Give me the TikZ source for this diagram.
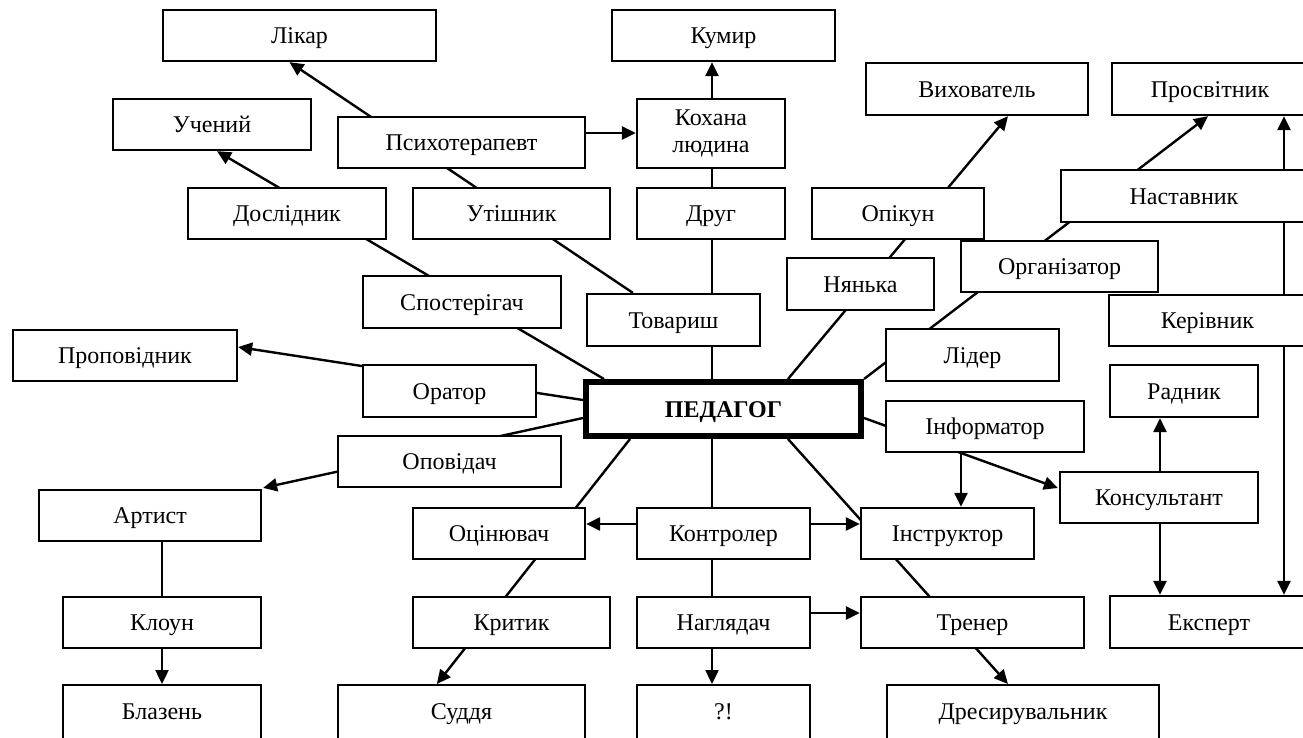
\documentclass[tikz,border=0pt]{standalone}
\usepackage{fontspec}
\setmainfont{Liberation Serif}
\usetikzlibrary{arrows.meta,calc}
\pgfdeclarelayer{background}
\pgfsetlayers{background,main}

% one role box: name, centre x, centre y, width, height, text
\newcommand\rolebox[6]{\node[box, minimum width=#4pt, minimum height=#5pt] (#1) at (#2,#3) {#6};}

\begin{document}
\begin{tikzpicture}[x=1pt,y=-1pt,
  box/.style={draw, line width=2.3pt, fill=white, inner sep=0pt,
    font=\fontsize{24}{27}\selectfont, align=center,
    text height=22pt, text depth=6pt},
  centrebox/.style={box, line width=6pt, font=\fontsize{24}{27}\selectfont\bfseries},
  link/.style={line width=2.4pt},
  arr/.style={line width=2.4pt, -{Triangle[length=14pt,width=13pt]}},
]
\useasboundingbox (0,0) rectangle (1303,737);
\clip (0,0) rectangle (1303,737);

% centre
\node[centrebox, minimum width=275pt, minimum height=54pt] (ped) at (723.5,409) {ПЕДАГОГ};

% upper part
\rolebox{likar}{299.5}{35.5}{273}{51}{Лікар}
\rolebox{kumyr}{723.5}{35.5}{223}{51}{Кумир}
\rolebox{uchenyi}{212}{124.5}{198}{51}{Учений}
\rolebox{psykh}{461.5}{142.5}{247}{51}{Психотерапевт}
\node[box, text height={}, text depth={}, minimum width=148pt, minimum height=69pt] (kokhana) at (711,133.5) {Кохана\\людина};
\rolebox{vykh}{977}{89}{222}{52}{Вихователь}
\rolebox{prosv}{1210}{89}{196}{52}{Просвітник}
\rolebox{doslid}{287}{213.5}{198}{51}{Дослідник}
\rolebox{utish}{511.5}{213.5}{197}{51}{Утішник}
\rolebox{druh}{711}{213.5}{148}{51}{Друг}
\rolebox{opikun}{898}{213.5}{172}{51}{Опікун}
\rolebox{nastav}{1184}{196}{246}{52}{Наставник}
\rolebox{orhaniz}{1059.5}{266.5}{197}{51}{Організатор}
\rolebox{nyanka}{860.5}{284}{147}{52}{Нянька}
\rolebox{sposter}{462}{302}{198}{52}{Спостерігач}
\rolebox{tovarysh}{673.5}{320}{173}{52}{Товариш}
\rolebox{kerivn}{1207.5}{320.5}{197}{51}{Керівник}

% middle band
\rolebox{propov}{125}{355.5}{224}{51}{Проповідник}
\rolebox{orator}{449.5}{391}{173}{52}{Оратор}
\rolebox{lider}{972.5}{355}{173}{52}{Лідер}
\rolebox{radnyk}{1184}{391}{148}{52}{Радник}
\rolebox{inform}{985}{426.5}{198}{51}{Інформатор}
\rolebox{opovid}{449.5}{461.5}{223}{51}{Оповідач}
\rolebox{konsult}{1159}{497.5}{198}{51}{Консультант}

% lower part
\rolebox{artyst}{150}{515.5}{222}{51}{Артист}
\rolebox{otsin}{499}{533.5}{172}{51}{Оцінювач}
\rolebox{kontrol}{723.5}{533.5}{173}{51}{Контролер}
\rolebox{instrukt}{947.5}{533.5}{173}{51}{Інструктор}
\rolebox{kloun}{162}{622.5}{198}{51}{Клоун}
\rolebox{krytyk}{511.5}{622.5}{197}{51}{Критик}
\rolebox{nahlyad}{723.5}{622.5}{173}{51}{Наглядач}
\rolebox{trener}{972.5}{622.5}{223}{51}{Тренер}
\rolebox{ekspert}{1209}{622}{198}{52}{Експерт}

% bottom row, running off the lower edge
\node[box, minimum width=198pt, minimum height=62pt, anchor=north] (blazen) at (162,684) {\raisebox{5pt}{Блазень}};
\node[box, minimum width=247pt, minimum height=62pt, anchor=north] (suddia) at (461.5,684) {\raisebox{5pt}{Суддя}};
\node[box, minimum width=173pt, minimum height=62pt, anchor=north] (qm) at (723.5,684) {\raisebox{5pt}{?!}};
\node[box, minimum width=272pt, minimum height=62pt, anchor=north] (dresyr) at (1023,684) {\raisebox{5pt}{Дресирувальник}};

% connectors run beneath the boxes
\begin{pgfonlayer}{background}
  % rays from the centre
  \draw[arr] ($(ped.north west)+(21,0)$) -- ($(uchenyi.south)+(5,0)$);
  \draw[arr] ($(tovarysh.north west)+(47,0)$) -- ($(likar.south)+(-10,0)$);
  \draw[link] ($(ped.north)+(-11.5,0)$) -- ($(kokhana.south)+(1,0)$);
  \draw[arr] ($(kokhana.north)+(1,0)$) -- ($(kumyr.south)+(-11.5,0)$);
  \draw[arr] ($(ped.north)+(64.5,0)$) -- ($(vykh.south)+(31,0)$);
  \draw[arr] (ped.north east) -- ($(prosv.south)+(-2,0)$);
  \draw[arr] ($(ped.west)+(0,-9)$) -- ($(propov.east)+(0,-8.5)$);
  \draw[arr] ($(ped.west)+(0,9)$) -- ($(artyst.north east)+(1,-1)$);
  \draw[arr] ($(ped.south west)+(47,0)$) -- ($(suddia.north west)+(100,0)$);
  \draw[arr] ($(ped.south)+(-11.5,0)$) -- ($(qm.north)+(-11.5,0)$);
  \draw[arr] ($(ped.south)+(64.5,0)$) -- ($(dresyr.north)+(-15,0)$);
  \draw[arr] ($(ped.east)+(0,9)$) -- ($(konsult.west)+(-1,-9.5)$);
  % side links
  \draw[arr] ($(psykh.east)+(0,-9.5)$) -- ($(kokhana.west)+(0,-0.5)$);
  \draw[arr] ($(kerivn.center)+(76.5,0)$) -- ($(prosv.south)+(74,0)$);
  \draw[arr] ($(kerivn.south)+(76.5,0)$) -- ($(ekspert.north)+(75,0)$);
  \draw[arr] ($(inform.south)+(-24,0)$) -- ($(instrukt.north)+(13.5,0)$);
  \draw[arr] ($(konsult.north)+(1,0)$) -- ($(radnyk.south)+(-24,0)$);
  \draw[arr] ($(konsult.south)+(1,0)$) -- ($(ekspert.north)+(-49,0)$);
  \draw[arr] ($(kontrol.west)+(0,-9.5)$) -- ($(otsin.east)+(0,-9.5)$);
  \draw[arr] ($(kontrol.east)+(0,-9.5)$) -- ($(instrukt.west)+(0,-9.5)$);
  \draw[arr] ($(nahlyad.east)+(0,-9.5)$) -- ($(trener.west)+(0,-9.5)$);
  \draw[link] (kloun.north) -- (kloun.north |- artyst.south);
  \draw[arr] (kloun.south) -- (blazen.north);
\end{pgfonlayer}
\end{tikzpicture}
\end{document}
